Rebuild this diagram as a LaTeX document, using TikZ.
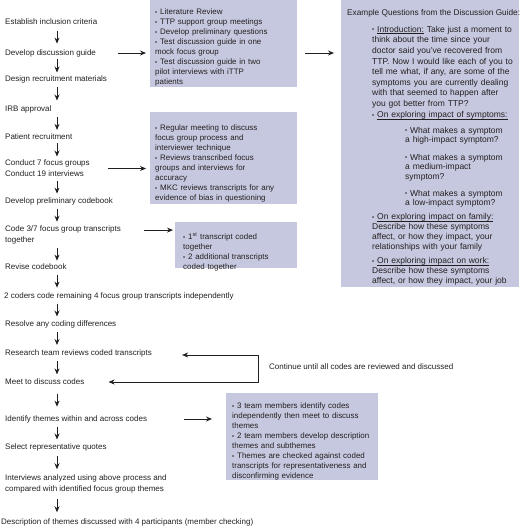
\documentclass[tikz,border=0pt]{standalone}
\usepackage{fontspec}
\setmainfont{Liberation Sans}
\usetikzlibrary{arrows.meta,calc}
\definecolor{boxfill}{RGB}{198,200,223}
\definecolor{ink}{RGB}{35,31,32}
\newcommand\bl{\par\noindent\hangindent=5pt\hangafter=1\makebox[5pt][l]{\raisebox{0.6pt}{\fontsize{6}{6}\selectfont\textbullet}}}
\newsavebox\ulbox
\newcommand\ulin[1]{\sbox\ulbox{#1}\rlap{\rule[-1.4pt]{\wd\ulbox}{0.45pt}}\usebox\ulbox}
\newcommand\darrow[2]{\draw[arr] ($(#1.south -| colx)!.5!(#2.north -| colx)$) ++(0,-6.5) -- ++(0,13);}
\begin{document}
\begin{tikzpicture}[x=1pt,y=-1pt,
  lbl/.style={anchor=west, inner sep=0pt, font=\fontsize{8}{11}\selectfont, text=ink, align=left},
  box/.style={fill=boxfill, anchor=north west, inner sep=0pt},
  btxt/.style={anchor=north west, inner sep=0pt, text width=180pt, align=left, text=ink, font=\fontsize{7.95}{10}\selectfont},
  qtxt/.style={anchor=north west, inner sep=0pt, text width=180pt, align=left, text=ink, font=\fontsize{8.5}{#1}\selectfont},
  qtxt/.default=10,
  arr/.style={-{Stealth[length=6pt,width=5pt]}, line width=0.8pt, draw=ink},
  arrtwo/.style={{Stealth[length=6pt,width=5pt]}-{Stealth[length=6pt,width=5pt]}, line width=0.8pt, draw=ink}]
\useasboundingbox (0,0) rectangle (520,526);
% boxes
\node[box, minimum width=147pt, minimum height=87pt] (b1) at (150,0) {};
\node[box, minimum width=147pt, minimum height=92pt] (b2) at (150,112) {};
\node[box, minimum width=122pt, minimum height=46pt] (b3) at (175,222) {};
\node[box, minimum width=152pt, minimum height=87pt] (b4) at (226,393) {};
\node[box, minimum width=178pt, minimum height=287pt] (big) at (341,0) {};
% box texts
\node[btxt] (t1) at (155,4.5) {\bl Literature Review\bl TTP support group meetings\bl Develop preliminary questions\bl Test discussion guide in one\\ mock focus group\bl Test discussion guide in two\\ pilot interviews with iTTP\\ patients};
\node[btxt] (t2) at (155,120.5) {\bl Regular meeting to discuss\\ focus group process and\\ interviewer technique\bl Reviews transcribed focus\\ groups and interviews for\\ accuracy\bl MKC reviews transcripts for any\\ evidence of bias in questioning};
\node[btxt] (t3) at (183,229.5) {\bl 1\textsuperscript{st} transcript coded\\ together\bl 2 additional transcripts\\ coded together};
\node[btxt] (t4) at (232,398.5) {\bl 3 team members identify codes\\ independently then meet to discuss\\ themes\bl 2 team members develop description\\ themes and subthemes\bl Themes are checked against coded\\ transcripts for representativeness and\\ disconfirming evidence};
% big box texts
\node[lbl, font=\fontsize{8.25}{10}\selectfont] (title) at (347,13) {Example Questions from the Discussion Guide:};
\node[qtxt=10.6] (q1) at (372,21.5) {\bl \ulin{Introduction:} Take just a moment to\\ think about the time since your\\ doctor said you've recovered from\\ TTP. Now I would like each of you to\\ tell me what, if any, are some of the\\ symptoms you are currently dealing\\ with that seemed to happen after\\ you got better from TTP?};
\node[qtxt] (q2) at (372,107.5) {\bl \ulin{On exploring impact of symptoms:}};
\node[qtxt=9.5] (q2a) at (405,123.5) {\bl What makes a symptom\\ a high-impact symptom?};
\node[qtxt=9.5] (q2b) at (405,150.5) {\bl What makes a symptom\\ a medium-impact\\ symptom?};
\node[qtxt=9.5] (q2c) at (405,186.5) {\bl What makes a symptom\\ a low-impact symptom?};
\node[qtxt] (q3) at (372,209.5) {\bl \ulin{On exploring impact on family:}\\ Describe how these symptoms\\ affect, or how they impact, your\\ relationships with your family};
\node[qtxt] (q4) at (372,253.5) {\bl \ulin{On exploring impact on work:}\\ Describe how these symptoms\\ affect, or how they impact, your job};
% left column
\node[lbl] (n1) at (5,22) {Establish inclusion criteria};
\node[lbl] (n2) at (5,53) {Develop discussion guide};
\node[lbl] (n3) at (5,79) {Design recruitment materials};
\node[lbl] (n4) at (5,109) {IRB approval};
\node[lbl] (n5) at (5,137) {Patient recruitment};
\node[lbl] (n6) at (5,168.5) {Conduct 7 focus groups\\Conduct 19 interviews};
\node[lbl] (n7) at (5,201) {Develop preliminary codebook};
\node[lbl] (n8) at (5,235) {Code 3/7 focus group transcripts\\together};
\node[lbl] (n9) at (5,267) {Revise codebook};
\node[lbl] (n10) at (4,296) {2 coders code remaining 4 focus group transcripts independently};
\node[lbl] (n11) at (5,324) {Resolve any coding differences};
\node[lbl] (n12) at (5,353) {Research team reviews coded transcripts};
\node[lbl] (n13) at (5,382) {Meet to discuss codes};
\node[lbl] (n14) at (5,419) {Identify themes within and across codes};
\node[lbl] (n15) at (5,447) {Select representative quotes};
\node[lbl] (n16) at (5,484) {Interviews analyzed using above process and\\compared with identified focus group themes};
\node[lbl] (n17) at (1,522) {Description of themes discussed with 4 participants (member checking)};
\node[lbl] (cont) at (269,367) {Continue until all codes are reviewed and discussed};
% vertical arrows
\coordinate (colx) at (57,0);
\darrow{n1}{n2}
\darrow{n2}{n3}
\darrow{n3}{n4}
\darrow{n4}{n5}
\darrow{n5}{n6}
\darrow{n6}{n7}
\darrow{n7}{n8}
\darrow{n8}{n9}
\darrow{n9}{n10}
\darrow{n10}{n11}
\darrow{n11}{n12}
\darrow{n12}{n13}
\darrow{n13}{n14}
\darrow{n14}{n15}
\darrow{n15}{n16}
\darrow{n16}{n17}
% horizontal arrows
\draw[arr, shorten >=4pt] ($(n2.east)+(22,0)$) -- (b1.west |- n2.east);
\draw[arr, shorten >=7pt] ($(b1.east |- n2.east)+(8,0)$) -- (big.west |- n2.east);
\draw[arr, shorten >=4pt] ($(n6.east)+(18,0)$) -- (b2.west |- n6.east);
\draw[arr, shorten >=2pt] ($(n8.north east)+(23,4.5)$) -- ($(b3.west |- n8.north)+(0,4.5)$);
\draw[arr, shorten >=14pt] ($(n14.east)+(37,0)$) -- (b4.west |- n14.east);
% loop
\coordinate (loopx) at (258,0);
\draw[arrtwo] ($(n12.east)+(30,2)$) -- ($(n12.east -| loopx)+(0,2)$) -- (n13.east -| loopx) -- ($(n13.east)+(24,0)$);
\end{tikzpicture}
\end{document}
